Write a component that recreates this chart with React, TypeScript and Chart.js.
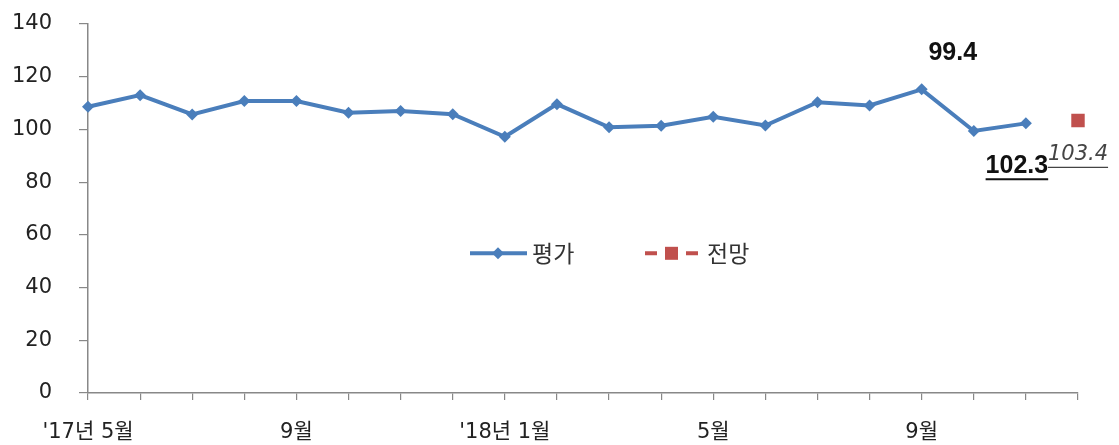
import React, { useEffect, useRef } from "react";
import Chart from "chart.js/auto";

const categories = [
  "'17년 5월", "6월", "7월", "8월", "9월", "10월", "11월", "12월",
  "'18년 1월", "2월", "3월", "4월", "5월", "6월", "7월", "8월",
  "9월", "10월", "11월", "12월",
];
const evaluation = [
  108.6, 113.0, 105.7, 110.8, 110.8, 106.3, 107.0, 105.8,
  97.2, 109.6, 100.8, 101.4, 104.8, 101.5, 110.3, 109.1,
  115.2, 99.4, 102.3, null,
];
const forecast = [
  null, null, null, null, null, null, null, null,
  null, null, null, null, null, null, null, null,
  null, null, null, 103.4,
];
const seriesNames = ["평가", "전망"];
const yTicks = [0, 20, 40, 60, 80, 100, 120, 140];
const shownTickIndexes = [0, 4, 8, 12, 16];

const BLUE = "#4A7EBB";
const RED = "#C0504D";
const FONT = '"DejaVu Sans", "Noto Sans CJK KR", sans-serif';

// annotations: dataset, index, text offsets relative to the point
const annotations = [
  { ds: 0, idx: 17, dx: -21, dy: -78, style: "bold", underline: false },
  { ds: 0, idx: 18, dx: -9, dy: 43, style: "bold", underline: true },
  { ds: 1, idx: 19, dx: 0, dy: 34, style: "italic", underline: true },
];

const overlayPlugin = {
  id: "overlay",
  afterDraw(chart: any) {
    const ctx = chart.ctx;
    ctx.save();
    annotations.forEach((a) => {
      const el = chart.getDatasetMeta(a.ds).data[a.idx];
      const v = chart.data.datasets[a.ds].data[a.idx];
      const text = v.toFixed(1);
      const x = el.x + a.dx;
      const y = el.y + a.dy;
      if (a.style === "bold") {
        ctx.font = `bold 25px "Liberation Sans", Arial, sans-serif`;
        ctx.fillStyle = "#111";
      } else {
        ctx.font = `italic 300 21px "DejaVu Sans", sans-serif`;
        ctx.fillStyle = "#444";
      }
      ctx.textAlign = "center";
      ctx.textBaseline = "middle";
      ctx.fillText(text, x, y);
      if (a.underline) {
        const w = ctx.measureText(text).width;
        ctx.strokeStyle = a.style === "bold" ? "#111" : "#444";
        ctx.lineWidth = a.style === "bold" ? 2 : 1.2;
        ctx.beginPath();
        ctx.moveTo(x - w / 2, y + 13);
        ctx.lineTo(x + w / 2, y + 13);
        ctx.stroke();
      }
    });

    // legend
    const ca = chart.chartArea;
    const cx = (ca.left + ca.right) / 2;
    const ly = chart.scales.y.getPixelForValue(53);
    const l1 = cx - 113;
    ctx.strokeStyle = BLUE;
    ctx.lineWidth = 4;
    ctx.beginPath();
    ctx.moveTo(l1, ly);
    ctx.lineTo(l1 + 57, ly);
    ctx.stroke();
    ctx.fillStyle = BLUE;
    ctx.beginPath();
    ctx.moveTo(l1 + 28, ly - 6);
    ctx.lineTo(l1 + 34, ly);
    ctx.lineTo(l1 + 28, ly + 6);
    ctx.lineTo(l1 + 22, ly);
    ctx.closePath();
    ctx.fill();
    ctx.font = `23px "Noto Sans CJK KR", sans-serif`;
    ctx.fillStyle = "#333";
    ctx.textAlign = "left";
    ctx.textBaseline = "middle";
    ctx.fillText(seriesNames[0], l1 + 62, ly);

    const l2 = cx + 62;
    ctx.strokeStyle = RED;
    ctx.beginPath();
    ctx.moveTo(l2, ly);
    ctx.lineTo(l2 + 12, ly);
    ctx.moveTo(l2 + 41, ly);
    ctx.lineTo(l2 + 53, ly);
    ctx.stroke();
    ctx.fillStyle = RED;
    ctx.fillRect(l2 + 20, ly - 6.5, 13, 13);
    ctx.fillStyle = "#333";
    ctx.fillText(seriesNames[1], l2 + 62, ly);
    ctx.restore();
  },
};

export default function App() {
  const ref = useRef<HTMLCanvasElement | null>(null);
  useEffect(() => {
    if (!ref.current) return;
    const chart = new Chart(ref.current, {
      type: "line",
      data: {
        labels: categories,
        datasets: [
          {
            label: seriesNames[0],
            data: evaluation,
            borderColor: BLUE,
            backgroundColor: BLUE,
            borderWidth: 4,
            pointStyle: "rectRot",
            pointRadius: 6,
            pointBorderWidth: 0,
            tension: 0,
            spanGaps: false,
          },
          {
            label: seriesNames[1],
            data: forecast,
            borderColor: RED,
            backgroundColor: RED,
            borderWidth: 4,
            borderDash: [10, 6],
            pointStyle: "rect",
            pointRadius: 9.5,
            pointBorderWidth: 0,
          },
        ],
      },
      options: {
        animation: false,
        responsive: true,
        maintainAspectRatio: false,
        layout: { padding: { left: 0, right: 41, top: 24, bottom: 0 } },
        plugins: {
          legend: { display: false },
          tooltip: { enabled: false },
        },
        scales: {
          x: {
            offset: false,
            grid: {
              display: true,
              drawOnChartArea: false,
              drawTicks: true,
              tickLength: 7,
              color: "#888",
              lineWidth: 1.2,
            },
            border: { display: true, color: "#888", width: 1.5 },
            ticks: {
              autoSkip: false,
              maxRotation: 0,
              minRotation: 0,
              padding: 20,
              color: "#222",
              font: { size: 21, family: FONT },
              callback: (_v: any, i: number) =>
                shownTickIndexes.includes(i) ? categories[i] : "",
            },
            afterFit: (s: any) => {
              s.height = 52;
            },
          },
          y: {
            min: 0,
            max: 140,
            afterBuildTicks: (s: any) => {
              s.ticks = yTicks.map((v) => ({ value: v }));
            },
            grid: {
              display: true,
              drawOnChartArea: false,
              drawTicks: true,
              tickLength: 9,
              color: "#888",
              lineWidth: 1.2,
            },
            border: { display: true, color: "#888", width: 1.5 },
            ticks: {
              padding: 27,
              color: "#222",
              font: { size: 21, family: FONT },
            },
            afterFit: (s: any) => {
              s.width = 88;
              s.paddingTop = 0;
              s.paddingBottom = 0;
            },
          },
        },
      },
      plugins: [overlayPlugin],
    });
    return () => chart.destroy();
  }, []);
  return (
    <div style={{ position: "absolute", left: 0, top: 0, width: 1119, height: 445, background: "#fff" }}>
      <canvas ref={ref} />
    </div>
  );
}
